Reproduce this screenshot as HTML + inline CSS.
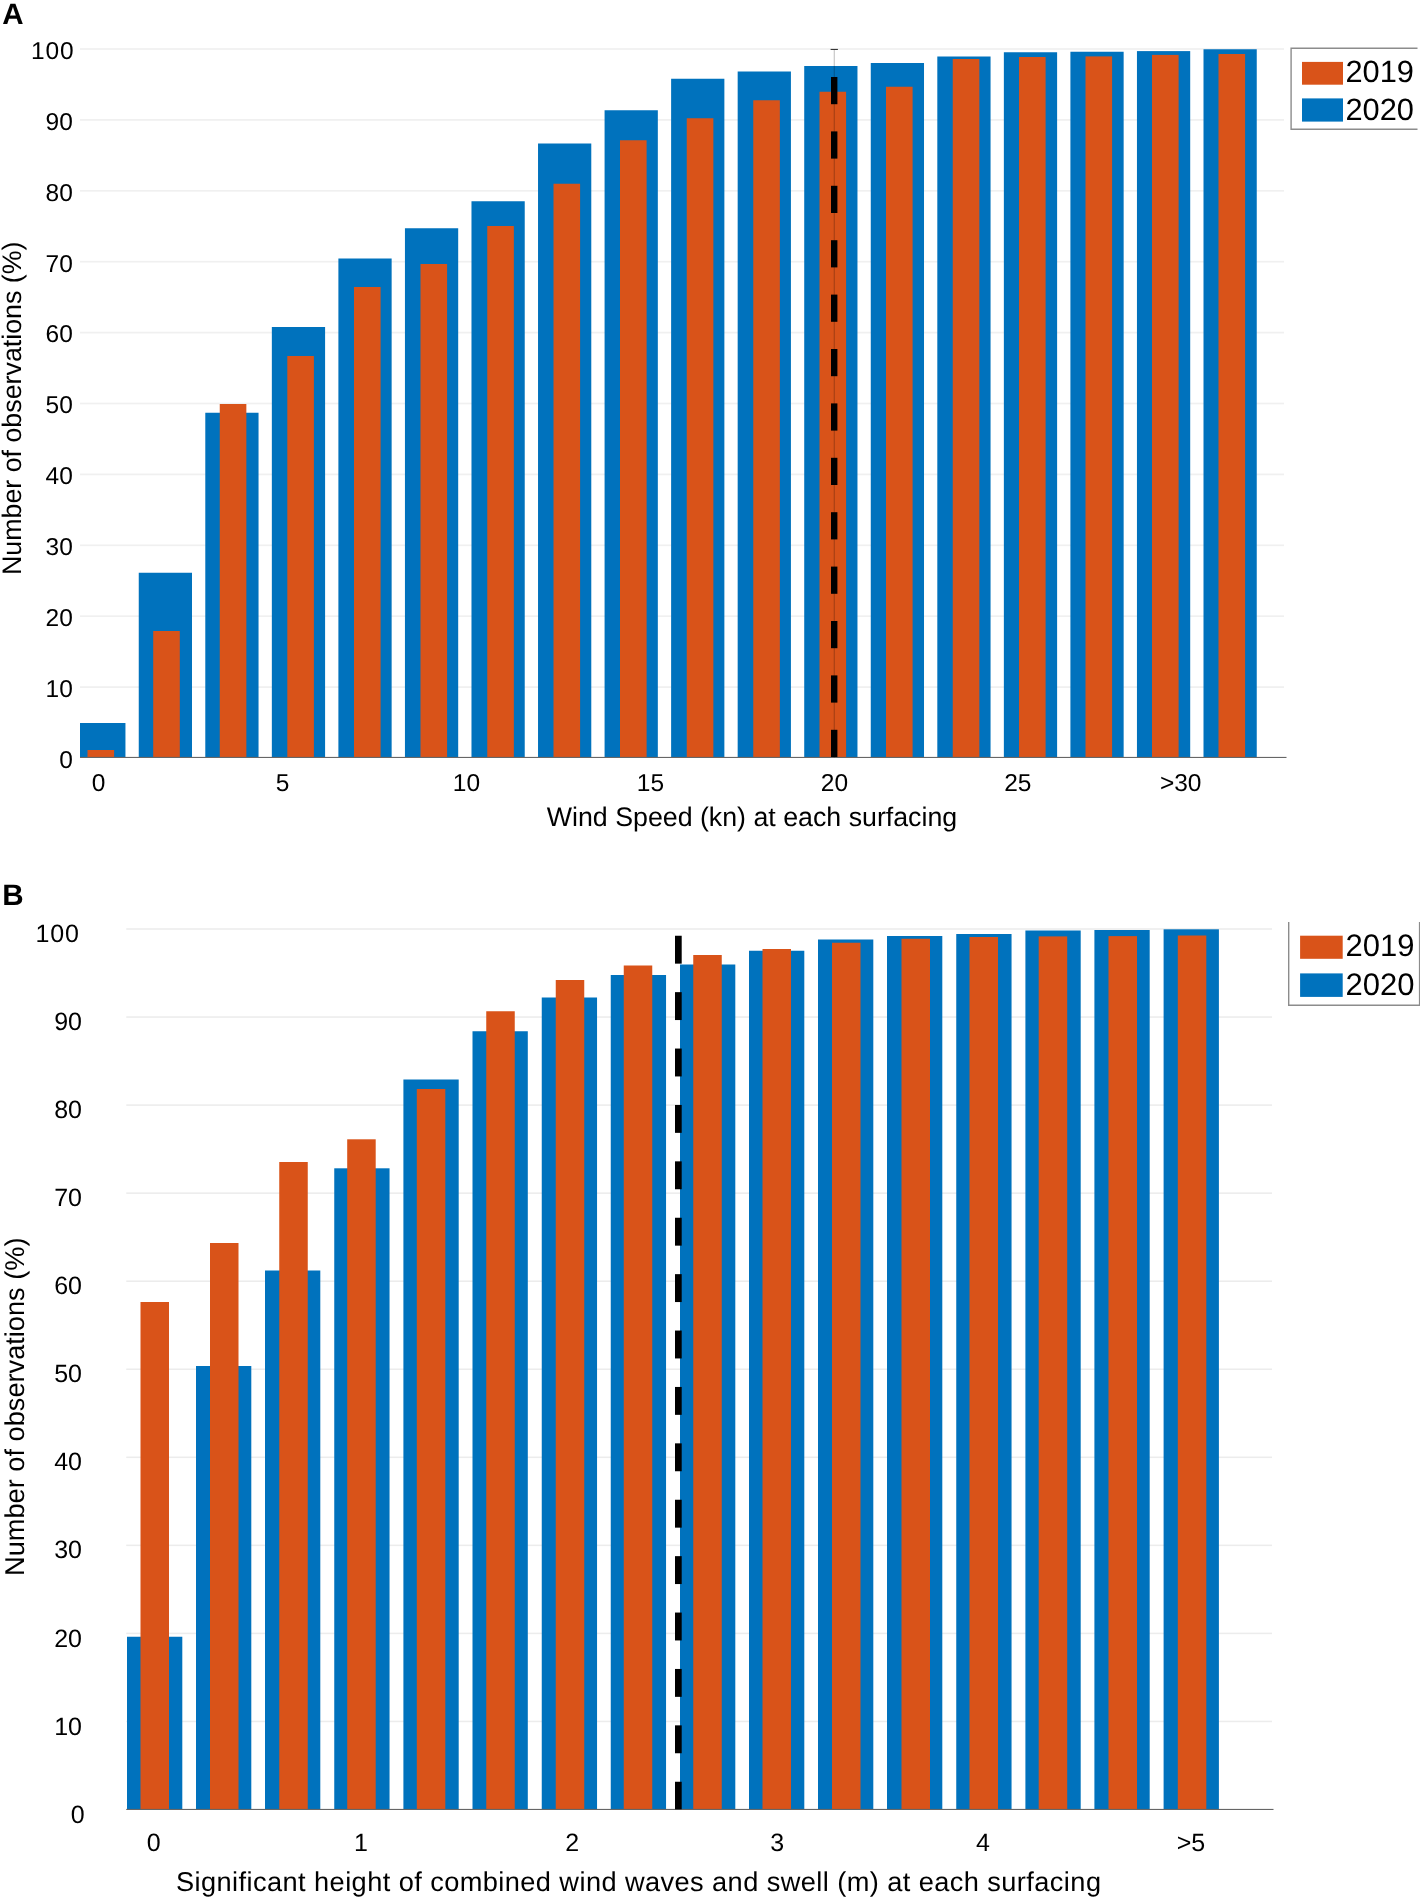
<!DOCTYPE html>
<html><head><meta charset="utf-8"><title>Figure</title>
<style>
html,body{margin:0;padding:0;background:#fff;}
body{width:1420px;height:1897px;overflow:hidden;}
svg{display:block;will-change:transform;}
text{font-family:"Liberation Sans",sans-serif;fill:#000;-webkit-font-smoothing:antialiased;text-rendering:geometricPrecision;}
</style></head><body>
<svg width="1420" height="1897" viewBox="0 0 1420 1897">
<defs><clipPath id="clipA"><rect x="80" y="0" width="1300" height="760"/></clipPath></defs>
<rect x="0" y="0" width="1420" height="1897" fill="#ffffff"/>
<rect x="80.00" y="686.25" width="1204.00" height="1.70" fill="#f0f0f0" />
<rect x="80.00" y="615.35" width="1204.00" height="1.70" fill="#f0f0f0" />
<rect x="80.00" y="544.45" width="1204.00" height="1.70" fill="#f0f0f0" />
<rect x="80.00" y="473.55" width="1204.00" height="1.70" fill="#f0f0f0" />
<rect x="80.00" y="402.65" width="1204.00" height="1.70" fill="#f0f0f0" />
<rect x="80.00" y="331.75" width="1204.00" height="1.70" fill="#f0f0f0" />
<rect x="80.00" y="260.85" width="1204.00" height="1.70" fill="#f0f0f0" />
<rect x="80.00" y="189.95" width="1204.00" height="1.70" fill="#f0f0f0" />
<rect x="80.00" y="119.05" width="1204.00" height="1.70" fill="#f0f0f0" />
<rect x="80.00" y="48.15" width="1204.00" height="1.70" fill="#f0f0f0" />
<g clip-path="url(#clipA)">
<rect x="72.20" y="723.00" width="53.25" height="34.50" fill="#0072BD" />
<rect x="138.75" y="572.75" width="53.25" height="184.75" fill="#0072BD" />
<rect x="205.29" y="412.75" width="53.25" height="344.75" fill="#0072BD" />
<rect x="271.84" y="327.00" width="53.25" height="430.50" fill="#0072BD" />
<rect x="338.39" y="258.50" width="53.25" height="499.00" fill="#0072BD" />
<rect x="404.94" y="228.25" width="53.25" height="529.25" fill="#0072BD" />
<rect x="471.48" y="201.25" width="53.25" height="556.25" fill="#0072BD" />
<rect x="538.03" y="143.50" width="53.25" height="614.00" fill="#0072BD" />
<rect x="604.58" y="110.25" width="53.25" height="647.25" fill="#0072BD" />
<rect x="671.12" y="78.75" width="53.25" height="678.75" fill="#0072BD" />
<rect x="737.67" y="71.50" width="53.25" height="686.00" fill="#0072BD" />
<rect x="804.22" y="66.00" width="53.25" height="691.50" fill="#0072BD" />
<rect x="870.76" y="63.00" width="53.25" height="694.50" fill="#0072BD" />
<rect x="937.31" y="56.50" width="53.25" height="701.00" fill="#0072BD" />
<rect x="1003.86" y="52.25" width="53.25" height="705.25" fill="#0072BD" />
<rect x="1070.40" y="51.75" width="53.25" height="705.75" fill="#0072BD" />
<rect x="1136.95" y="51.10" width="53.25" height="706.40" fill="#0072BD" />
<rect x="1203.50" y="49.25" width="53.25" height="708.25" fill="#0072BD" />
<rect x="87.50" y="750.00" width="26.60" height="7.50" fill="#D95319" />
<rect x="153.20" y="631.00" width="26.60" height="126.50" fill="#D95319" />
<rect x="219.75" y="404.00" width="26.60" height="353.50" fill="#D95319" />
<rect x="287.30" y="356.00" width="26.60" height="401.50" fill="#D95319" />
<rect x="354.00" y="287.00" width="26.60" height="470.50" fill="#D95319" />
<rect x="420.50" y="264.00" width="26.60" height="493.50" fill="#D95319" />
<rect x="487.25" y="226.00" width="26.60" height="531.50" fill="#D95319" />
<rect x="553.50" y="183.75" width="26.60" height="573.75" fill="#D95319" />
<rect x="620.00" y="140.25" width="26.60" height="617.25" fill="#D95319" />
<rect x="686.75" y="118.25" width="26.60" height="639.25" fill="#D95319" />
<rect x="753.25" y="100.25" width="26.60" height="657.25" fill="#D95319" />
<rect x="819.50" y="91.75" width="26.60" height="665.75" fill="#D95319" />
<rect x="886.00" y="86.75" width="26.60" height="670.75" fill="#D95319" />
<rect x="952.75" y="59.00" width="26.60" height="698.50" fill="#D95319" />
<rect x="1019.00" y="57.00" width="26.60" height="700.50" fill="#D95319" />
<rect x="1085.50" y="56.40" width="26.60" height="701.10" fill="#D95319" />
<rect x="1152.00" y="54.90" width="26.60" height="702.60" fill="#D95319" />
<rect x="1218.50" y="54.00" width="26.60" height="703.50" fill="#D95319" />
</g>
<rect x="80.00" y="756.90" width="1206.50" height="1.10" fill="#666" />
<rect x="833.70" y="49.50" width="1.20" height="708.00" fill="#000" opacity="0.22"/>
<rect x="830.60" y="48.90" width="7.30" height="1.10" fill="#222" opacity="0.9"/>
<rect x="831.00" y="77.00" width="6.40" height="27.20" fill="#000" />
<rect x="831.00" y="131.40" width="6.40" height="27.20" fill="#000" />
<rect x="831.00" y="185.80" width="6.40" height="27.20" fill="#000" />
<rect x="831.00" y="240.20" width="6.40" height="27.20" fill="#000" />
<rect x="831.00" y="294.60" width="6.40" height="27.20" fill="#000" />
<rect x="831.00" y="349.00" width="6.40" height="27.20" fill="#000" />
<rect x="831.00" y="403.40" width="6.40" height="27.20" fill="#000" />
<rect x="831.00" y="457.80" width="6.40" height="27.20" fill="#000" />
<rect x="831.00" y="512.20" width="6.40" height="27.20" fill="#000" />
<rect x="831.00" y="566.60" width="6.40" height="27.20" fill="#000" />
<rect x="831.00" y="621.00" width="6.40" height="27.20" fill="#000" />
<rect x="831.00" y="675.40" width="6.40" height="27.20" fill="#000" />
<rect x="831.00" y="729.80" width="6.40" height="27.20" fill="#000" />
<text x="72.80" y="767.80" font-size="24.5" text-anchor="end" font-weight="normal" >0</text>
<text x="72.80" y="696.90" font-size="24.5" text-anchor="end" font-weight="normal" >10</text>
<text x="72.80" y="626.00" font-size="24.5" text-anchor="end" font-weight="normal" >20</text>
<text x="72.80" y="555.10" font-size="24.5" text-anchor="end" font-weight="normal" >30</text>
<text x="72.80" y="484.20" font-size="24.5" text-anchor="end" font-weight="normal" >40</text>
<text x="72.80" y="413.30" font-size="24.5" text-anchor="end" font-weight="normal" >50</text>
<text x="72.80" y="342.40" font-size="24.5" text-anchor="end" font-weight="normal" >60</text>
<text x="72.80" y="271.50" font-size="24.5" text-anchor="end" font-weight="normal" >70</text>
<text x="72.80" y="200.60" font-size="24.5" text-anchor="end" font-weight="normal" >80</text>
<text x="72.80" y="129.70" font-size="24.5" text-anchor="end" font-weight="normal" >90</text>
<text x="74.50" y="58.80" font-size="24.5" text-anchor="end" font-weight="normal" letter-spacing="0.9">100</text>
<text x="98.50" y="790.80" font-size="24.5" text-anchor="middle" font-weight="normal" >0</text>
<text x="282.50" y="790.80" font-size="24.5" text-anchor="middle" font-weight="normal" >5</text>
<text x="466.50" y="790.80" font-size="24.5" text-anchor="middle" font-weight="normal" >10</text>
<text x="650.50" y="790.80" font-size="24.5" text-anchor="middle" font-weight="normal" >15</text>
<text x="834.50" y="790.80" font-size="24.5" text-anchor="middle" font-weight="normal" >20</text>
<text x="1017.80" y="790.80" font-size="24.5" text-anchor="middle" font-weight="normal" >25</text>
<text x="1180.70" y="790.80" font-size="24.5" text-anchor="middle" font-weight="normal" >&gt;30</text>
<text x="752.00" y="826.00" font-size="26.75" text-anchor="middle" font-weight="normal" id="tA">Wind Speed (kn) at each surfacing</text>
<text transform="translate(21,408.3) rotate(-90)" font-size="26.8" text-anchor="middle" id="yA">Number of observations (%)</text>
<text x="2.20" y="24.40" font-size="29.5" text-anchor="start" font-weight="bold" id="pA">A</text>
<path d="M1417.5 48.2 H1291.1 V129.3 H1417.5" fill="none" stroke="#8c8c8c" stroke-width="1.4"/>
<rect x="1302.00" y="61.90" width="41.00" height="22.80" fill="#D95319" />
<rect x="1302.00" y="98.40" width="41.00" height="23.20" fill="#0072BD" />
<text x="1345.40" y="81.80" font-size="30.8" text-anchor="start" font-weight="normal" id="lA1">2019</text>
<text x="1345.40" y="119.80" font-size="30.8" text-anchor="start" font-weight="normal" id="lA2">2020</text>
<rect x="126.25" y="1720.70" width="1145.75" height="1.50" fill="#ececec" />
<rect x="126.25" y="1632.65" width="1145.75" height="1.50" fill="#ececec" />
<rect x="126.25" y="1544.60" width="1145.75" height="1.50" fill="#ececec" />
<rect x="126.25" y="1456.55" width="1145.75" height="1.50" fill="#ececec" />
<rect x="126.25" y="1368.50" width="1145.75" height="1.50" fill="#ececec" />
<rect x="126.25" y="1280.45" width="1145.75" height="1.50" fill="#ececec" />
<rect x="126.25" y="1192.40" width="1145.75" height="1.50" fill="#ececec" />
<rect x="126.25" y="1104.35" width="1145.75" height="1.50" fill="#ececec" />
<rect x="126.25" y="1016.30" width="1145.75" height="1.50" fill="#ececec" />
<rect x="126.25" y="928.25" width="1145.75" height="1.50" fill="#ececec" />
<rect x="127.00" y="1636.75" width="55.30" height="172.75" fill="#0072BD" />
<rect x="196.00" y="1366.00" width="55.30" height="443.50" fill="#0072BD" />
<rect x="265.00" y="1270.50" width="55.30" height="539.00" fill="#0072BD" />
<rect x="334.25" y="1168.30" width="55.30" height="641.20" fill="#0072BD" />
<rect x="403.40" y="1079.50" width="55.30" height="730.00" fill="#0072BD" />
<rect x="472.50" y="1031.25" width="55.30" height="778.25" fill="#0072BD" />
<rect x="541.75" y="997.50" width="55.30" height="812.00" fill="#0072BD" />
<rect x="610.75" y="975.00" width="55.30" height="834.50" fill="#0072BD" />
<rect x="680.00" y="964.50" width="55.30" height="845.00" fill="#0072BD" />
<rect x="749.00" y="950.75" width="55.30" height="858.75" fill="#0072BD" />
<rect x="818.00" y="939.50" width="55.30" height="870.00" fill="#0072BD" />
<rect x="887.00" y="936.00" width="55.30" height="873.50" fill="#0072BD" />
<rect x="956.25" y="934.00" width="55.30" height="875.50" fill="#0072BD" />
<rect x="1025.40" y="930.50" width="55.30" height="879.00" fill="#0072BD" />
<rect x="1094.40" y="930.00" width="55.30" height="879.50" fill="#0072BD" />
<rect x="1163.60" y="929.30" width="55.30" height="880.20" fill="#0072BD" />
<rect x="140.50" y="1302.00" width="28.50" height="507.50" fill="#D95319" />
<rect x="210.00" y="1243.00" width="28.50" height="566.50" fill="#D95319" />
<rect x="279.25" y="1162.00" width="28.50" height="647.50" fill="#D95319" />
<rect x="347.20" y="1139.30" width="28.50" height="670.20" fill="#D95319" />
<rect x="416.80" y="1089.00" width="28.50" height="720.50" fill="#D95319" />
<rect x="486.25" y="1011.25" width="28.50" height="798.25" fill="#D95319" />
<rect x="555.75" y="980.00" width="28.50" height="829.50" fill="#D95319" />
<rect x="623.75" y="965.50" width="28.50" height="844.00" fill="#D95319" />
<rect x="693.25" y="955.00" width="28.50" height="854.50" fill="#D95319" />
<rect x="762.50" y="949.00" width="28.50" height="860.50" fill="#D95319" />
<rect x="832.00" y="942.75" width="28.50" height="866.75" fill="#D95319" />
<rect x="901.50" y="938.75" width="28.50" height="870.75" fill="#D95319" />
<rect x="969.50" y="937.00" width="28.50" height="872.50" fill="#D95319" />
<rect x="1038.70" y="936.40" width="28.50" height="873.10" fill="#D95319" />
<rect x="1108.50" y="936.10" width="28.50" height="873.40" fill="#D95319" />
<rect x="1177.80" y="935.50" width="28.50" height="874.00" fill="#D95319" />
<rect x="126.25" y="1808.90" width="1147.25" height="1.10" fill="#666" />
<rect x="675.00" y="935.75" width="6.70" height="27.90" fill="#000" />
<rect x="675.00" y="992.15" width="6.70" height="27.90" fill="#000" />
<rect x="675.00" y="1048.55" width="6.70" height="27.90" fill="#000" />
<rect x="675.00" y="1104.95" width="6.70" height="27.90" fill="#000" />
<rect x="675.00" y="1161.35" width="6.70" height="27.90" fill="#000" />
<rect x="675.00" y="1217.75" width="6.70" height="27.90" fill="#000" />
<rect x="675.00" y="1274.15" width="6.70" height="27.90" fill="#000" />
<rect x="675.00" y="1330.55" width="6.70" height="27.90" fill="#000" />
<rect x="675.00" y="1386.95" width="6.70" height="27.90" fill="#000" />
<rect x="675.00" y="1443.35" width="6.70" height="27.90" fill="#000" />
<rect x="675.00" y="1499.75" width="6.70" height="27.90" fill="#000" />
<rect x="675.00" y="1556.15" width="6.70" height="27.90" fill="#000" />
<rect x="675.00" y="1612.55" width="6.70" height="27.90" fill="#000" />
<rect x="675.00" y="1668.95" width="6.70" height="27.90" fill="#000" />
<rect x="675.00" y="1725.35" width="6.70" height="27.90" fill="#000" />
<rect x="675.00" y="1781.75" width="6.70" height="27.55" fill="#000" />
<text x="84.60" y="1823.40" font-size="25" text-anchor="end" font-weight="normal" >0</text>
<text x="82.00" y="1734.55" font-size="25" text-anchor="end" font-weight="normal" >10</text>
<text x="82.00" y="1646.50" font-size="25" text-anchor="end" font-weight="normal" >20</text>
<text x="82.00" y="1558.45" font-size="25" text-anchor="end" font-weight="normal" >30</text>
<text x="82.00" y="1470.40" font-size="25" text-anchor="end" font-weight="normal" >40</text>
<text x="82.00" y="1382.35" font-size="25" text-anchor="end" font-weight="normal" >50</text>
<text x="82.00" y="1294.30" font-size="25" text-anchor="end" font-weight="normal" >60</text>
<text x="82.00" y="1206.25" font-size="25" text-anchor="end" font-weight="normal" >70</text>
<text x="82.00" y="1118.20" font-size="25" text-anchor="end" font-weight="normal" >80</text>
<text x="82.00" y="1030.15" font-size="25" text-anchor="end" font-weight="normal" >90</text>
<text x="79.80" y="942.10" font-size="25" text-anchor="end" font-weight="normal" letter-spacing="0.9">100</text>
<text x="153.75" y="1851.30" font-size="25" text-anchor="middle" font-weight="normal" >0</text>
<text x="361.00" y="1851.30" font-size="25" text-anchor="middle" font-weight="normal" >1</text>
<text x="572.20" y="1851.30" font-size="25" text-anchor="middle" font-weight="normal" >2</text>
<text x="777.20" y="1851.30" font-size="25" text-anchor="middle" font-weight="normal" >3</text>
<text x="982.90" y="1851.30" font-size="25" text-anchor="middle" font-weight="normal" >4</text>
<text x="1191.00" y="1851.30" font-size="25" text-anchor="middle" font-weight="normal" >&gt;5</text>
<text x="176.00" y="1891.30" font-size="27.2" text-anchor="start" font-weight="normal" id="tB" textLength="925" lengthAdjust="spacing">Significant height of combined wind waves and swell (m) at each surfacing</text>
<text transform="translate(24.4,1406.7) rotate(-90)" font-size="27.2" text-anchor="middle" id="yB">Number of observations (%)</text>
<text x="2.30" y="905.00" font-size="29.6" text-anchor="start" font-weight="bold" id="pB">B</text>
<path d="M1288.7 921.9 V1005.3 H1419.6 V921.9" fill="none" stroke="#8c8c8c" stroke-width="1.4"/>
<rect x="1300.10" y="935.70" width="42.60" height="23.10" fill="#D95319" />
<rect x="1300.10" y="973.40" width="42.60" height="23.50" fill="#0072BD" />
<text x="1345.60" y="956.00" font-size="31" text-anchor="start" font-weight="normal" id="lB1">2019</text>
<text x="1345.60" y="995.20" font-size="31" text-anchor="start" font-weight="normal" id="lB2">2020</text>
</svg>
</body></html>
